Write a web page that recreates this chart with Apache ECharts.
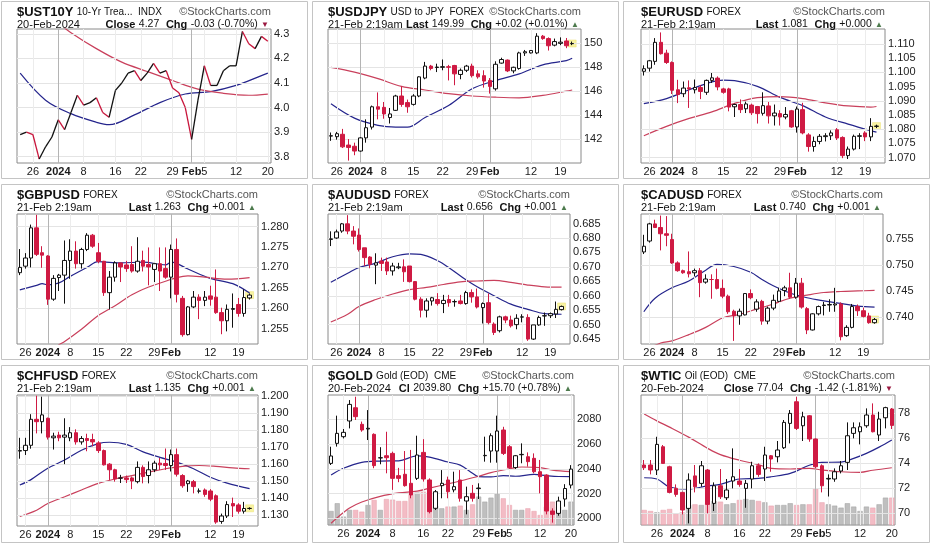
<!DOCTYPE html>
<html><head><meta charset="utf-8">
<script src="https://cdn.jsdelivr.net/npm/echarts@6/dist/echarts.min.js"></script>
<style>html,body{margin:0;padding:0;background:#fff}#c{width:934px;height:545px}</style>
</head><body><div id="c"></div>
<script>
// ---------- categories / tick labels ----------
const fxDates = ['12-22','12-26','12-27','12-28','12-29','01-02','01-03','01-04','01-05','01-08','01-09','01-10','01-11','01-12','01-15','01-16','01-17','01-18','01-19','01-22','01-23','01-24','01-25','01-26','01-29','01-30','01-31','02-01','02-02','02-05','02-06','02-07','02-08','02-09','02-12','02-13','02-14','02-15','02-16','02-19','02-20','02-21',''];
const usDates = ['12-21','12-22','12-26','12-27','12-28','12-29','01-02','01-03','01-04','01-05','01-08','01-09','01-10','01-11','01-12','01-16','01-17','01-18','01-19','01-22','01-23','01-24','01-25','01-26','01-29','01-30','01-31','02-01','02-02','02-05','02-06','02-07','02-08','02-09','02-12','02-13','02-14','02-15','02-16','02-20'];
const fxTickLabels = {'12-26':'26','01-02':'2024','01-08':'8','01-15':'15','01-22':'22','01-29':'29','02-01':'Feb','02-12':'12','02-19':'19'};
const usTickLabels = {'12-26':'26','01-02':'2024','01-08':'8','01-16':'16','01-22':'22','01-29':'29','02-01':'Feb','02-05':'5','02-12':'12','02-20':'20'};
const boldTickLabels = ['2024','Feb'];
const monthStarts = ['01-02','02-01'];

// ---------- headers ----------
const ust10yHead = ['$UST10Y','10-Yr Trea...  INDX','20-Feb-2024','Close','4.27','-0.03 (-0.70%)','down'];
const usdjpyHead = ['$USDJPY','USD to JPY  FOREX','21-Feb 2:19am','Last','149.99','+0.02 (+0.01%)','up'];
const eurusdHead = ['$EURUSD','FOREX','21-Feb 2:19am','Last','1.081','+0.000','up'];
const gbpusdHead = ['$GBPUSD','FOREX','21-Feb 2:19am','Last','1.263','+0.001','up'];
const audusdHead = ['$AUDUSD','FOREX','21-Feb 2:19am','Last','0.656','+0.001','up'];
const cadusdHead = ['$CADUSD','FOREX','21-Feb 2:19am','Last','0.740','+0.001','up'];
const chfusdHead = ['$CHFUSD','FOREX','21-Feb 2:19am','Last','1.135','+0.001','up'];
const goldHead   = ['$GOLD','Gold (EOD)  CME','20-Feb-2024','Cl','2039.80','+15.70 (+0.78%)','up'];
const wticHead   = ['$WTIC','Oil (EOD)  CME','20-Feb-2024','Close','77.04','-1.42 (-1.81%)','down'];

// ---------- y tick values ----------
const ust10yTicks = [3.8,3.9,4.0,4.1,4.2,4.3];
const usdjpyTicks = [142,144,146,148,150];
const eurusdTicks = [1.070,1.075,1.080,1.085,1.090,1.095,1.100,1.105,1.110];
const gbpusdTicks = [1.255,1.260,1.265,1.270,1.275,1.280];
const audusdTicks = [0.645,0.650,0.655,0.660,0.665,0.670,0.675,0.680,0.685];
const cadusdTicks = [0.740,0.745,0.750,0.755];
const chfusdTicks = [1.130,1.140,1.150,1.160,1.170,1.180,1.190,1.200];
const goldTicks = [2000,2020,2040,2060,2080];
const wticTicks = [70,72,74,76,78];

// ---------- series values ----------
const ust10yClose = [3.89,3.90,3.89,3.79,3.84,3.88,3.95,3.91,3.98,4.05,4.01,4.02,4.04,3.98,3.96,4.07,4.10,4.14,4.15,4.11,4.14,4.18,4.14,4.15,4.08,4.06,4.00,3.87,4.03,4.17,4.09,4.09,4.15,4.17,4.17,4.31,4.26,4.24,4.29,4.27];
const ust10yMA20 = [[0,4.14],[4,4.03],[8,3.975],[12,3.94],[14,3.93],[18,3.97],[22,4.02],[26,4.055],[30,4.065],[34,4.09],[38,4.13],[39,4.14]];
const ust10yMA50 = [[0,4.44],[4,4.38],[8,4.305],[12,4.24],[16,4.185],[20,4.147],[24,4.11],[28,4.075],[32,4.058],[36,4.05],[39,4.055]];

// OHLC rows are [open, close, low, high]
const usdjpyOHLC = [[142.25,142.28,141.85,142.55],[142.2,142.45,141.95,142.6],[142.4,141.35,141.25,142.85],[141.5,141.3,140.2,142.0],[141.4,141.0,140.65,141.7],[141.0,142.1,140.95,142.15],[142.1,142.95,141.7,143.65],[143.0,144.7,142.8,144.8],[144.7,144.5,143.65,145.9],[144.65,144.1,143.7,145.1],[143.8,144.1,143.3,144.6],[144.4,145.6,144.35,145.7],[145.6,144.9,144.7,146.4],[145.05,144.7,144.2,145.3],[144.9,145.6,144.8,145.75],[145.6,147.2,145.5,147.25],[147.1,148.1,147.0,148.45],[148.1,147.9,147.75,148.2],[147.98,148.02,147.6,148.3],[148.0,148.05,147.75,148.65],[148.05,148.0,146.9,148.2],[148.15,147.45,146.5,148.2],[147.4,147.75,147.0,147.9],[147.75,148.1,147.6,148.2],[148.1,147.3,147.15,148.3],[147.45,147.2,147.05,147.75],[147.3,146.85,146.3,147.75],[146.9,146.4,145.8,147.1],[146.2,148.25,146.05,148.5],[148.35,148.65,148.3,148.8],[148.6,147.7,147.6,148.65],[147.7,148.0,147.5,148.05],[147.9,149.2,147.8,149.3],[149.2,149.3,148.95,149.45],[149.2,149.4,149.15,149.45],[149.2,150.6,149.1,150.85],[150.6,150.4,150.3,150.7],[150.4,149.8,149.4,150.5],[149.85,150.15,149.75,150.4],[150.0,150.1,149.85,150.5],[150.2,149.8,149.6,150.45],[149.97,149.99,149.85,150.15]];
const usdjpyMA20 = [[0,144.95],[4,143.75],[8,143.15],[11,143.0],[13,143.0],[16,143.8],[20,144.8],[24,146.2],[28,146.9],[32,147.45],[36,148.2],[40,148.55],[41,148.75]];
const usdjpyMA50 = [[0,148.0],[4,147.6],[8,147.05],[12,146.4],[16,146.1],[20,145.8],[24,145.6],[28,145.5],[32,145.45],[36,145.65],[40,146.0],[41,146.1]];

const eurusdOHLC = [[1.1004,1.1013,1.0989,1.1025],[1.1015,1.1041,1.1003,1.1044],[1.1039,1.1106,1.1027,1.1121],[1.1106,1.1066,1.1063,1.1141],[1.1068,1.1035,1.1030,1.1080],[1.1035,1.0937,1.0924,1.1039],[1.0939,1.0922,1.0892,1.0974],[1.0925,1.0945,1.0913,1.0968],[1.0946,1.0942,1.0875,1.0972],[1.0939,1.0947,1.0926,1.0975],[1.0947,1.0933,1.0906,1.0955],[1.0930,1.0972,1.0921,1.0975],[1.0972,1.0981,1.0963,1.0998],[1.0980,1.0949,1.0937,1.0986],[1.0942,1.0930,1.0925,1.0946],[1.0942,1.0878,1.0863,1.0946],[1.0879,1.0887,1.0843,1.0890],[1.0887,1.0869,1.0857,1.0905],[1.0872,1.0889,1.0857,1.0897],[1.0885,1.0858,1.0850,1.0890],[1.0880,1.0855,1.0820,1.0882],[1.0856,1.0883,1.0848,1.0930],[1.0882,1.0847,1.0820,1.0896],[1.0847,1.0857,1.0813,1.0887],[1.0855,1.0843,1.0813,1.0867],[1.0843,1.0852,1.0835,1.0878],[1.0865,1.0808,1.0805,1.0868],[1.0808,1.0871,1.0788,1.0880],[1.0869,1.0787,1.0782,1.0893],[1.0780,1.0739,1.0721,1.0786],[1.0739,1.0757,1.0721,1.0774],[1.0757,1.0775,1.0747,1.0783],[1.0774,1.0777,1.0757,1.0786],[1.0777,1.0787,1.0762,1.0796],[1.0798,1.0769,1.0762,1.0804],[1.0771,1.0707,1.0698,1.0775],[1.0707,1.0730,1.0695,1.0739],[1.0730,1.0775,1.0725,1.0781],[1.0775,1.0777,1.0730,1.0786],[1.0787,1.0773,1.0758,1.0793],[1.0773,1.0810,1.0758,1.0839],[1.0810,1.0811,1.0804,1.0816]];
const eurusdMA20 = [[0,1.0890],[4,1.0908],[8,1.0939],[12,1.0967],[14,1.0973],[16,1.0971],[20,1.0951],[24,1.0912],[28,1.0883],[32,1.0843],[36,1.0818],[40,1.0795],[41,1.0790]];
const eurusdMA50 = [[0,1.0777],[4,1.0810],[8,1.0838],[12,1.0861],[16,1.0891],[20,1.0911],[24,1.0915],[28,1.0908],[32,1.0893],[36,1.0882],[40,1.0878],[41,1.0880]];

const gbpusdOHLC = [[1.2687,1.2700,1.2681,1.2745],[1.2703,1.2723,1.2697,1.2735],[1.2723,1.2797,1.2700,1.2805],[1.2797,1.2732,1.2728,1.2829],[1.2736,1.2730,1.2699,1.2752],[1.2728,1.2622,1.2608,1.2730],[1.2622,1.2673,1.2618,1.2681],[1.2675,1.2681,1.2642,1.2684],[1.2681,1.2717,1.2611,1.2766],[1.2717,1.2740,1.2672,1.2769],[1.2740,1.2709,1.2697,1.2764],[1.2709,1.2744,1.2697,1.2748],[1.2744,1.2779,1.2740,1.2784],[1.2779,1.2752,1.2748,1.2782],[1.2736,1.2715,1.2710,1.2760],[1.2715,1.2638,1.2630,1.2716],[1.2638,1.2676,1.2597,1.2691],[1.2676,1.2711,1.2665,1.2715],[1.2711,1.2701,1.2664,1.2712],[1.2706,1.2697,1.2689,1.2716],[1.2707,1.2691,1.2687,1.2752],[1.2691,1.2715,1.2687,1.2774],[1.2717,1.2703,1.2690,1.2741],[1.2707,1.2701,1.2656,1.2749],[1.2695,1.2709,1.2664,1.2711],[1.2709,1.2691,1.2642,1.2749],[1.2697,1.2676,1.2672,1.2749],[1.2676,1.2744,1.2624,1.2756],[1.2744,1.2634,1.2614,1.2771],[1.2624,1.2535,1.2530,1.2630],[1.2535,1.2603,1.2533,1.2605],[1.2603,1.2627,1.2600,1.2642],[1.2627,1.2619,1.2573,1.2634],[1.2619,1.2627,1.2605,1.2642],[1.2630,1.2622,1.2606,1.2655],[1.2627,1.2589,1.2586,1.2695],[1.2589,1.2569,1.2536,1.2601],[1.2569,1.2597,1.2543,1.2609],[1.2597,1.2599,1.2552,1.2636],[1.2609,1.2587,1.2579,1.2625],[1.2587,1.2626,1.2579,1.2646],[1.2625,1.2632,1.2621,1.2636]];
const gbpusdMA20 = [[0,1.2645],[3,1.2656],[4,1.2660],[5,1.2657],[7,1.2662],[9,1.2678],[12,1.2700],[14,1.2714],[18,1.2711],[22,1.2713],[26,1.2706],[27,1.2713],[30,1.2696],[34,1.2673],[38,1.2660],[41,1.2637]];
const gbpusdMA50 = [[0,1.2440],[4,1.2475],[7,1.2510],[8,1.2518],[11,1.2548],[14,1.2582],[17,1.2606],[20,1.2633],[23,1.2652],[26,1.2666],[28,1.2675],[30,1.2679],[33,1.2676],[37,1.2671],[41,1.2675]];

const audusdOHLC = [[0.6795,0.6797,0.6772,0.6823],[0.6800,0.6821,0.6797,0.6829],[0.6824,0.6849,0.6818,0.6852],[0.6849,0.6824,0.6813,0.6879],[0.6824,0.6806,0.6778,0.6841],[0.6810,0.6760,0.6753,0.6833],[0.6766,0.6732,0.6703,0.6766],[0.6734,0.6709,0.6695,0.6737],[0.6706,0.6714,0.6640,0.6747],[0.6720,0.6712,0.6686,0.6732],[0.6717,0.6686,0.6672,0.6732],[0.6686,0.6703,0.6670,0.6714],[0.6697,0.6700,0.6692,0.6714],[0.6700,0.6683,0.6648,0.6726],[0.6703,0.6649,0.6646,0.6703],[0.6649,0.6588,0.6584,0.6651],[0.6588,0.6550,0.6525,0.6595],[0.6550,0.6582,0.6525,0.6591],[0.6582,0.6593,0.6566,0.6596],[0.6587,0.6573,0.6566,0.6609],[0.6573,0.6584,0.6540,0.6603],[0.6587,0.6576,0.6562,0.6603],[0.6579,0.6580,0.6562,0.6587],[0.6582,0.6573,0.6570,0.6603],[0.6573,0.6611,0.6569,0.6617],[0.6611,0.6596,0.6576,0.6622],[0.6596,0.6561,0.6556,0.6625],[0.6559,0.6573,0.6504,0.6577],[0.6576,0.6507,0.6501,0.6608],[0.6502,0.6473,0.6464,0.6508],[0.6479,0.6527,0.6473,0.6531],[0.6527,0.6516,0.6505,0.6531],[0.6516,0.6496,0.6490,0.6531],[0.6500,0.6522,0.6484,0.6536],[0.6526,0.6527,0.6508,0.6536],[0.6525,0.6450,0.6444,0.6536],[0.6450,0.6499,0.6447,0.6499],[0.6499,0.6525,0.6496,0.6531],[0.6530,0.6531,0.6496,0.6542],[0.6531,0.6538,0.6523,0.6542],[0.6537,0.6553,0.6523,0.6580],[0.6552,0.6563,0.6549,0.6566]];
const audusdMA20 = [[0,0.6647],[3,0.6678],[5,0.6698],[8,0.6713],[11,0.6735],[14,0.6745],[16,0.6743],[19,0.6721],[21,0.6697],[24,0.6655],[26,0.6631],[29,0.6600],[32,0.6571],[35,0.6553],[38,0.6538],[41,0.6536]];
const audusdMA50 = [[0,0.6509],[3,0.6536],[5,0.6563],[8,0.6587],[11,0.6606],[14,0.6621],[17,0.6629],[20,0.6639],[23,0.6648],[26,0.6651],[29,0.6653],[32,0.6646],[35,0.6637],[38,0.6631],[41,0.6630]];

const cadusdOHLC = [[0.7525,0.7536,0.7521,0.7558],[0.7546,0.7579,0.7543,0.7581],[0.7579,0.7572,0.7571,0.7587],[0.7572,0.7560,0.7528,0.7595],[0.7560,0.7557,0.7536,0.7594],[0.7549,0.7504,0.7502,0.7560],[0.7504,0.7489,0.7487,0.7507],[0.7489,0.7485,0.7483,0.7491],[0.7487,0.7483,0.7476,0.7526],[0.7485,0.7489,0.7478,0.7493],[0.7489,0.7466,0.7438,0.7494],[0.7467,0.7473,0.7464,0.7482],[0.7472,0.7472,0.7435,0.7482],[0.7472,0.7455,0.7453,0.7493],[0.7455,0.7440,0.7436,0.7472],[0.7440,0.7410,0.7406,0.7443],[0.7411,0.7402,0.7354,0.7414],[0.7402,0.7411,0.7385,0.7416],[0.7404,0.7445,0.7403,0.7446],[0.7445,0.7437,0.7434,0.7453],[0.7415,0.7429,0.7410,0.7434],[0.7430,0.7392,0.7385,0.7433],[0.7392,0.7417,0.7386,0.7420],[0.7417,0.7432,0.7413,0.7443],[0.7430,0.7450,0.7429,0.7456],[0.7451,0.7456,0.7440,0.7460],[0.7456,0.7438,0.7435,0.7485],[0.7438,0.7465,0.7435,0.7475],[0.7465,0.7419,0.7416,0.7475],[0.7416,0.7375,0.7367,0.7419],[0.7375,0.7406,0.7374,0.7407],[0.7406,0.7420,0.7403,0.7422],[0.7422,0.7423,0.7403,0.7429],[0.7423,0.7424,0.7410,0.7434],[0.7423,0.7425,0.7410,0.7456],[0.7425,0.7362,0.7355,0.7428],[0.7364,0.7380,0.7362,0.7384],[0.7380,0.7420,0.7378,0.7425],[0.7420,0.7412,0.7402,0.7424],[0.7412,0.7401,0.7399,0.7418],[0.7402,0.7389,0.7387,0.7408],[0.7389,0.7395,0.7387,0.7398]];
const cadusdMA20 = [[0,0.7410],[2,0.7436],[5,0.7456],[8,0.7469],[11,0.7490],[13,0.7501],[16,0.7497],[19,0.7486],[21,0.7472],[23,0.7460],[26,0.7446],[29,0.7437],[32,0.7431],[35,0.7426],[38,0.7421],[41,0.7419]];
const cadusdMA50 = [[0,0.7335],[3,0.7350],[5,0.7354],[8,0.7366],[11,0.7380],[14,0.7398],[17,0.7405],[20,0.7415],[23,0.7425],[26,0.7436],[29,0.7442],[32,0.7447],[35,0.7449],[38,0.7450],[41,0.7451]];

const chfusdOHLC = [[1.1678,1.1681,1.1633,1.1756],[1.1681,1.1712,1.1655,1.1756],[1.1712,1.1865,1.1692,1.1895],[1.1865,1.1851,1.1782,1.2004],[1.1851,1.1891,1.1782,1.1998],[1.1871,1.1760,1.1746,1.1875],[1.1756,1.1766,1.1687,1.1786],[1.1772,1.1756,1.1736,1.1792],[1.1760,1.1772,1.1601,1.1871],[1.1756,1.1786,1.1736,1.1819],[1.1786,1.1732,1.1716,1.1806],[1.1732,1.1752,1.1716,1.1766],[1.1752,1.1740,1.1677,1.1780],[1.1746,1.1732,1.1706,1.1780],[1.1726,1.1681,1.1667,1.1736],[1.1681,1.1597,1.1593,1.1687],[1.1601,1.1568,1.1508,1.1607],[1.1568,1.1514,1.1498,1.1574],[1.1518,1.1520,1.1490,1.1538],[1.1520,1.1510,1.1490,1.1534],[1.1520,1.1502,1.1454,1.1528],[1.1498,1.1582,1.1488,1.1617],[1.1582,1.1528,1.1488,1.1594],[1.1534,1.1568,1.1488,1.1617],[1.1568,1.1607,1.1554,1.1621],[1.1607,1.1597,1.1567,1.1637],[1.1605,1.1593,1.1567,1.1693],[1.1593,1.1657,1.1558,1.1687],[1.1657,1.1542,1.1528,1.1693],[1.1534,1.1474,1.1462,1.1542],[1.1486,1.1502,1.1438,1.1508],[1.1498,1.1469,1.1429,1.1508],[1.1442,1.1443,1.1429,1.1458],[1.1449,1.1423,1.1409,1.1458],[1.1443,1.1395,1.1383,1.1454],[1.1415,1.1260,1.1250,1.1423],[1.1264,1.1296,1.1250,1.1310],[1.1296,1.1363,1.1284,1.1383],[1.1369,1.1355,1.1290,1.1404],[1.1361,1.1324,1.1310,1.1371],[1.1324,1.1340,1.1310,1.1379],[1.1340,1.1341,1.1333,1.1347]];
const chfusdMA20 = [[0,1.1478],[2,1.1510],[5,1.1577],[8,1.1625],[11,1.1683],[14,1.1722],[16,1.1730],[19,1.1717],[22,1.1673],[25,1.1641],[28,1.1613],[31,1.1574],[34,1.1524],[37,1.1489],[41,1.1457]];
const chfusdMA50 = [[0,1.1293],[3,1.1330],[5,1.1369],[8,1.1409],[11,1.1449],[14,1.1488],[17,1.1514],[20,1.1534],[23,1.1554],[26,1.1574],[29,1.1588],[32,1.1593],[35,1.1588],[38,1.1579],[41,1.1574]];

const goldOHLC = [[2044.4,2050.4,2043.1,2057.9],[2060.6,2068.7,2058.0,2083.0],[2066.0,2069.5,2064.6,2072.2],[2078.7,2092.1,2072.7,2095.6],[2089.4,2082.2,2079.5,2098.3],[2076.0,2071.4,2070.0,2078.2],[2072.2,2072.8,2063.3,2087.5],[2067.9,2042.6,2040.5,2068.7],[2048.8,2049.0,2043.7,2057.5],[2050.6,2049.0,2036.4,2070.0],[2052.5,2032.3,2023.0,2053.9],[2034.5,2032.3,2029.2,2040.8],[2035.6,2026.4,2025.6,2054.4],[2028.3,2018.9,2016.2,2055.3],[2032.3,2051.2,2031.0,2066.8],[2053.3,2031.8,2029.7,2064.0],[2031.0,2005.4,2004.0,2032.3],[2008.1,2021.5,2006.7,2022.9],[2026.4,2028.3,2016.2,2039.0],[2031.0,2021.5,2016.2,2033.7],[2023.0,2025.6,2021.0,2037.7],[2031.0,2016.2,2013.5,2039.0],[2014.0,2017.5,2003.2,2025.6],[2020.2,2016.2,2013.5,2027.0],[2024.0,2024.5,2015.6,2028.3],[2050.6,2050.9,2045.8,2066.0],[2054.4,2066.8,2045.0,2068.7],[2054.4,2070.6,2045.0,2083.0],[2071.4,2052.5,2051.2,2074.0],[2057.9,2041.0,2039.9,2059.2],[2041.0,2050.6,2039.9,2051.2],[2051.4,2051.7,2044.5,2060.6],[2049.8,2045.8,2041.8,2053.3],[2048.5,2037.7,2036.4,2052.5],[2037.7,2033.7,2020.2,2047.2],[2035.0,2005.9,2003.2,2035.6],[2005.9,2003.2,1996.5,2008.1],[2004.0,2014.0,2002.1,2017.5],[2015.6,2024.1,2009.4,2027.6],[2026.9,2039.8,2024.2,2043.0]];
const goldVolume = [105,163,63,113,113,100,150,188,113,195,190,180,180,230,243,250,238,145,125,138,138,145,113,155,213,175,205,238,200,150,113,113,125,105,75,138,175,138,113,175];
const goldMA20 = [[0,2035],[2,2040.5],[5,2045.3],[8,2046.3],[11,2046.5],[14,2050.5],[16,2049.5],[19,2045.5],[21,2043],[23,2036.5],[24,2033.7],[26,2033.5],[28,2034.5],[30,2034],[33,2035.5],[35,2034.5],[37,2033.8],[39,2033.7]];
const goldMA50 = [[0,1996],[1,2000.5],[3,2008.3],[5,2013.2],[8,2017.8],[11,2020.5],[14,2022],[16,2024.4],[19,2027.8],[21,2030.2],[24,2034],[26,2037],[29,2040],[31,2041.5],[34,2041],[36,2039],[39,2037.7]];

const wticOHLC = [[73.87,73.65,73.47,74.27],[73.87,73.47,73.12,74.27],[73.47,75.52,73.07,76.13],[75.33,74.0,74.0,75.47],[73.73,71.68,71.6,73.81],[72.0,71.52,71.33,72.32],[71.68,70.27,69.92,71.73],[70.4,72.67,69.2,73.2],[73.0,72.13,71.68,73.87],[72.4,73.81,72.13,74.19],[73.47,70.72,70.0,73.55],[70.8,72.21,70.19,72.48],[72.21,71.33,71.15,73.55],[71.25,71.87,71.07,72.75],[72.59,72.93,72.0,75.2],[72.59,72.32,72.13,73.55],[72.0,72.4,70.45,72.67],[72.75,73.81,72.0,74.13],[73.81,73.12,72.93,74.0],[73.55,74.67,72.59,75.33],[74.61,74.35,73.33,74.67],[74.53,75.07,74.08,75.79],[75.25,77.28,75.15,77.47],[77.2,78.0,75.6,78.27],[78.93,76.8,76.67,79.33],[77.01,77.73,75.79,78.13],[77.81,75.95,75.73,77.87],[75.95,73.73,73.6,76.0],[73.81,72.21,71.68,73.92],[72.75,72.8,71.35,73.12],[72.75,73.33,72.53,73.6],[73.39,73.81,73.2,74.19],[74.08,76.21,73.47,77.28],[76.4,76.85,76.0,77.28],[76.53,76.93,75.52,77.28],[77.01,77.87,76.85,78.4],[77.87,76.53,76.48,78.8],[76.27,77.55,75.79,78.13],[77.65,78.46,76.8,78.53],[78.35,77.04,76.75,78.43]];
const wticVolume = [113,105,95,113,120,88,95,150,155,150,163,180,175,155,163,188,195,188,180,170,145,150,150,163,150,155,155,275,170,155,145,130,163,138,105,138,130,155,205,205];
const wticMA20 = [[0,72.85],[2,72.75],[4,72.1],[7,71.95],[10,72.2],[12,72.32],[15,72.75],[18,72.8],[20,72.93],[23,73.2],[26,73.85],[28,74.08],[31,74.1],[33,74.4],[35,74.8],[37,75.3],[39,75.87]];
const wticMA50 = [[0,77.95],[2,77.4],[4,76.9],[7,76.1],[10,75.2],[12,74.7],[15,74.25],[18,73.9],[20,73.6],[23,73.55],[26,73.6],[28,73.47],[31,73.33],[34,73.28],[36,73.45],[39,73.65]];

// ---------- layout / style ----------
const FONT = '"Liberation Sans", Arial, sans-serif';
const RED = '#cf1a43', MARED = '#c9405c', BLUE = '#25258c';
const panels = [
  {head:ust10yHead, dates:usDates, labels:usTickLabels, box:[1,1,306,177], grid:[17,29,254,134], min:3.774, max:4.320, ticks:ust10yTicks, dec:1, line:ust10yClose, ma20:ust10yMA20, ma50:ust10yMA50},
  {head:usdjpyHead, dates:fxDates, labels:fxTickLabels, box:[312,1,306,177], grid:[328,29,253,134], min:140.0, max:151.2, ticks:usdjpyTicks, dec:0, ohlc:usdjpyOHLC, ma20:usdjpyMA20, ma50:usdjpyMA50, hl:true},
  {head:eurusdHead, dates:fxDates, labels:fxTickLabels, box:[623,1,306,177], grid:[641,29,244,134], min:1.0681, max:1.1153, ticks:eurusdTicks, dec:3, ohlc:eurusdOHLC, ma20:eurusdMA20, ma50:eurusdMA50, hl:true},
  {head:gbpusdHead, dates:fxDates, labels:fxTickLabels, box:[1,184,306,175], grid:[17,214,241,130], min:1.2512, max:1.2831, ticks:gbpusdTicks, dec:3, ohlc:gbpusdOHLC, ma20:gbpusdMA20, ma50:gbpusdMA50, hl:true},
  {head:audusdHead, dates:fxDates, labels:fxTickLabels, box:[312,184,306,175], grid:[328,214,242,130], min:0.6433, max:0.6883, ticks:audusdTicks, dec:3, ohlc:audusdOHLC, ma20:audusdMA20, ma50:audusdMA50, hl:true},
  {head:cadusdHead, dates:fxDates, labels:fxTickLabels, box:[623,184,306,175], grid:[641,214,242,130], min:0.7348, max:0.7598, ticks:cadusdTicks, dec:3, ohlc:cadusdOHLC, ma20:cadusdMA20, ma50:cadusdMA50, hl:true},
  {head:chfusdHead, dates:fxDates, labels:fxTickLabels, box:[1,365,306,177], grid:[17,395,241,131], min:1.1237, max:1.2008, ticks:chfusdTicks, dec:3, ohlc:chfusdOHLC, ma20:chfusdMA20, ma50:chfusdMA50, hl:true},
  {head:goldHead, dates:usDates, labels:usTickLabels, box:[312,365,306,177], grid:[328,395,246,130], min:1994.6, max:2099.7, ticks:goldTicks, dec:0, ohlc:goldOHLC, vol:goldVolume, ma20:goldMA20, ma50:goldMA50},
  {head:wticHead, dates:usDates, labels:usTickLabels, box:[623,365,306,177], grid:[641,395,254,130], min:69.07, max:79.47, ticks:wticTicks, dec:0, ohlc:wticOHLC, vol:wticVolume, ma20:wticMA20, ma50:wticMA50}
];

const grids=[], xAxes=[], yAxes=[], series=[], graphics=[];
panels.forEach((p,k)=>{
  grids.push({left:p.grid[0], top:p.grid[1], width:p.grid[2], height:p.grid[3], show:true,
    borderColor:'#8a8a8a', borderWidth:1, backgroundColor:'#fff', containLabel:false, outerBoundsMode:'none'});
  const xi = xAxes.length;
  xAxes.push({type:'category', gridIndex:k, data:p.dates, boundaryGap:true,
    axisLine:{show:false}, axisTick:{show:false}, splitLine:{show:false},
    axisLabel:{interval:(i,v)=>p.labels[v]!==undefined, margin:3, fontSize:11, color:'#1a1a1a', fontFamily:FONT,
      formatter:(v)=>{const t=p.labels[v]; if(t===undefined) return ''; return boldTickLabels.includes(t)?'{b|'+t+'}':t;},
      rich:{b:{fontWeight:'bold', fontSize:11, fontFamily:FONT, color:'#1a1a1a'}}}});
  const yi = yAxes.length;
  yAxes.push({type:'value', gridIndex:k, position:'right', min:p.min, max:p.max,
    axisLine:{show:false}, axisTick:{show:false}, splitLine:{show:false},
    axisLabel:{customValues:p.ticks, formatter:(v)=>Number(v).toFixed(p.dec), margin:3, fontSize:11, color:'#222', fontFamily:FONT}});
  const mlData = p.ticks.map(t=>({yAxis:t, lineStyle:{color:'#e4e4e4'}}))
    .concat(Object.keys(p.labels).map(d=>({xAxis:d, lineStyle:{color: monthStarts.includes(d)?'#b4b4b4':'#ececec'}})));
  series.push({type:'line', xAxisIndex:xi, yAxisIndex:yi, data:[], z:1, silent:true,
    markLine:{silent:true, symbol:['none','none'], label:{show:false}, animation:false,
      lineStyle:{type:'solid', width:1}, data:mlData}});
  if (p.vol) {
    const vi = yAxes.length;
    yAxes.push({type:'value', gridIndex:k, min:0, max:975, show:false, splitLine:{show:false}});
    series.push({type:'bar', xAxisIndex:xi, yAxisIndex:vi, barWidth:'82%', z:2, silent:true,
      data:p.vol.map((v,i)=>{const up=p.ohlc[i][1]>=p.ohlc[i][0];
        return {value:v, itemStyle:{color:up?'rgba(170,170,170,0.75)':'rgba(238,160,172,0.7)', borderColor:up?'#a0a0a0':'#e8a0ac', borderWidth:0.5}};})});
  }
  if (p.ohlc) {
    if (p.hl) {
      const last = p.ohlc.length-1;
      series.push({type:'scatter', xAxisIndex:xi, yAxisIndex:yi, symbol:'rect', symbolSize:[8,7], z:3, silent:true,
        itemStyle:{color:'#f6f08a', borderColor:'#e8dc60', borderWidth:0.5}, data:[[last, p.ohlc[last][1]]]});
    }
    series.push({type:'candlestick', xAxisIndex:xi, yAxisIndex:yi, data:p.ohlc, barWidth:4, z:5, silent:true,
      itemStyle:{color:'#fff', color0:RED, borderColor:'#111', borderColor0:RED, borderWidth:1}});
  }
  if (p.line) {
    const segs = p.line.map((v,i)=>[i, i>0?p.line[i-1]:v, v]);
    series.push({type:'custom', xAxisIndex:xi, yAxisIndex:yi, data:segs, z:5, clip:true, silent:true,
      encode:{x:0, y:[1,2]},
      renderItem:(params, api)=>{
        const i = api.value(0);
        if (i===0) return {type:'group', children:[]};
        const a = api.coord([i-1, api.value(1)]), b = api.coord([i, api.value(2)]);
        return {type:'line', shape:{x1:a[0],y1:a[1],x2:b[0],y2:b[1]},
          style:{stroke: api.value(2)>=api.value(1)?'#111':'#c8163c', lineWidth:1.3}};
      }});
  }
  series.push({type:'line', xAxisIndex:xi, yAxisIndex:yi, data:p.ma20, symbol:'none', smooth:0.35, z:4, silent:true,
    lineStyle:{color:BLUE, width:1.2}});
  series.push({type:'line', xAxisIndex:xi, yAxisIndex:yi, data:p.ma50, symbol:'none', smooth:0.35, z:4, silent:true,
    lineStyle:{color:MARED, width:1.2}});

  const [bx,by,bw,bh] = p.box, gl=p.grid[0], gr=p.grid[0]+p.grid[2];
  const h = p.head;
  graphics.push({type:'rect', shape:{x:bx+0.5,y:by+0.5,width:bw,height:bh}, style:{fill:'none', stroke:'#c4c4c4', lineWidth:1}, silent:true, z:0});
  graphics.push({type:'text', x:gl, y:by+11, silent:true, style:{text:'{t|'+h[0]+'} {s|'+h[1]+'}', verticalAlign:'middle', align:'left',
    rich:{t:{fontSize:13, fontWeight:'bold', fontFamily:FONT, fill:'#111'}, s:{fontSize:10, fontFamily:FONT, fill:'#111'}}}});
  graphics.push({type:'text', x:gr, y:by+11, silent:true, style:{text:'©StockCharts.com', align:'right', verticalAlign:'middle',
    fontSize:11, fontFamily:FONT, fill:'#555'}});
  graphics.push({type:'text', x:gl, y:by+23.5, silent:true, style:{text:h[2], align:'left', verticalAlign:'middle',
    fontSize:11, fontFamily:FONT, fill:'#111'}});
  const arrow = h[6]==='up' ? '{up|▲}' : '{dn|▼}';
  graphics.push({type:'text', x:gr-2, y:by+23.5, silent:true, style:{
    text:'{b|'+h[3]+'} {n|'+h[4]+'}  {b|Chg} {n|'+h[5]+'} '+arrow, align:'right', verticalAlign:'middle',
    rich:{b:{fontSize:11, fontWeight:'bold', fontFamily:FONT, fill:'#111'}, n:{fontSize:10.5, fontFamily:FONT, fill:'#111'},
      up:{fontSize:8, fontFamily:FONT, fill:'#4d7a4d'}, dn:{fontSize:8, fontFamily:FONT, fill:'#9a1840'}}}});
});

const chart = echarts.init(document.getElementById('c'), null, {renderer:'canvas', width:934, height:545});
chart.setOption({
  animation:false, backgroundColor:'#fff',
  textStyle:{fontFamily:FONT},
  grid:grids, xAxis:xAxes, yAxis:yAxes, series:series, graphic:graphics
});
</script></body></html>
